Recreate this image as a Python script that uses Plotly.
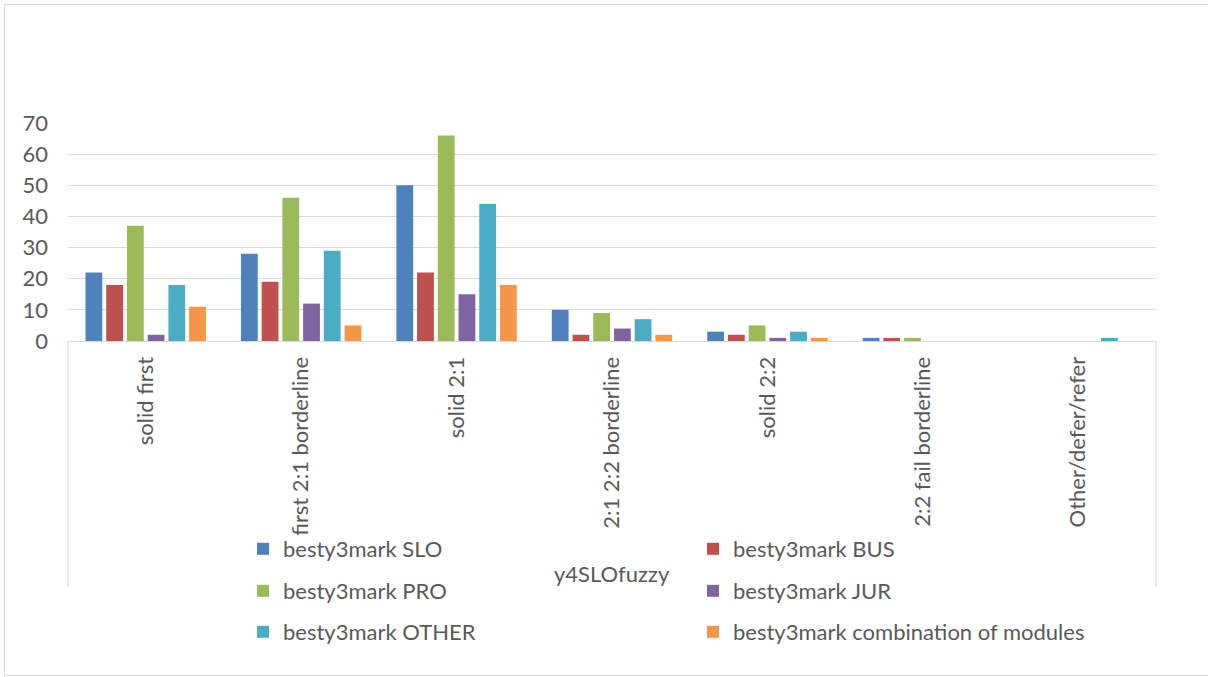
import plotly.graph_objects as go

categories = ["solid first", "first 2:1 borderline", "solid 2:1", "2:1 2:2 borderline",
              "solid 2:2", "2:2 fail borderline", "Other/defer/refer"]
series_names = ["besty3mark SLO", "besty3mark BUS", "besty3mark PRO",
                "besty3mark JUR", "besty3mark OTHER", "besty3mark combination of modules"]
slo = [22, 28, 50, 10, 3, 1, 0]
bus = [18, 19, 22, 2, 2, 1, 0]
pro = [37, 46, 66, 9, 5, 1, 0]
jur = [2, 12, 15, 4, 1, 0, 0]
other = [18, 29, 44, 7, 3, 0, 1]
combo = [11, 5, 18, 2, 1, 0, 0]
colors = ["#4F81BD", "#C0504D", "#9BBB59", "#8064A2", "#4BACC6", "#F79646"]
y_ticks = [0, 10, 20, 30, 40, 50, 60, 70]

W, H = 1208, 677
L, R, T, B = 68, 1156, 123, 341  # plot area in px


def px_x(px):
    return (px - L) / (R - L)


def px_y(py):
    return (B - py) / (B - T)


FONT = "Lato, 'Open Sans', sans-serif"
TXT = "#595959"
GRID = "#D9D9D9"

fig = go.Figure()
all_vals = [slo, bus, pro, jur, other, combo]
legend_ids = ["legend", "legend", "legend2", "legend2", "legend3", "legend3"]
for name, vals, col, lg in zip(series_names, all_vals, colors, legend_ids):
    fig.add_trace(go.Bar(x=categories, y=vals, name=name, marker_color=col,
                         marker_line_width=0, legend=lg))

leg_common = dict(orientation="h", xanchor="left", yanchor="middle",
                  font=dict(family=FONT, size=22, color=TXT),
                  bgcolor="rgba(0,0,0,0)", entrywidth=405, entrywidthmode="pixels",
                  itemclick=False, itemdoubleclick=False)
legend_x = px_x(243)
fig.update_layout(
    width=W, height=H,
    margin=dict(l=L, r=W - R, t=T, b=H - B, autoexpand=False),
    paper_bgcolor="white", plot_bgcolor="white",
    barmode="group", bargap=0.2, bargroupgap=0.19,
    font=dict(family=FONT, color=TXT),
    legend=dict(x=legend_x, y=px_y(549), **leg_common),
    legend2=dict(x=legend_x, y=px_y(591), **leg_common),
    legend3=dict(x=legend_x, y=px_y(632), **leg_common),
    xaxis=dict(tickangle=-90, tickfont=dict(family=FONT, size=22, color=TXT),
               showline=True, linecolor=GRID, linewidth=1, showgrid=False,
               ticks="", automargin=False, ticklabelstandoff=6),
    yaxis=dict(range=[0, 70], tickvals=y_ticks, showgrid=True, gridcolor=GRID,
               gridwidth=1, zeroline=False, showline=False,
               tickfont=dict(family=FONT, size=22, color=TXT), ticks="",
               automargin=False, ticklabelstandoff=19),
)

# category axis box (left & right edges)
for xv in (0, 1):
    fig.add_shape(type="line", xref="paper", yref="paper", x0=xv, x1=xv,
                  y0=0, y1=px_y(587), line=dict(color=GRID, width=1))

# outer chart border
fig.add_shape(type="rect", xref="paper", yref="paper",
              x0=px_x(4.5), x1=px_x(1212), y0=px_y(4.5), y1=px_y(675.5),
              line=dict(color=GRID, width=1), fillcolor="rgba(0,0,0,0)", layer="below")

fig.add_annotation(text="y4SLOfuzzy", xref="paper", yref="paper",
                   x=px_x(612), y=px_y(573), showarrow=False,
                   font=dict(family=FONT, size=22, color=TXT),
                   xanchor="center", yanchor="middle")

fig.write_html("out.html")
